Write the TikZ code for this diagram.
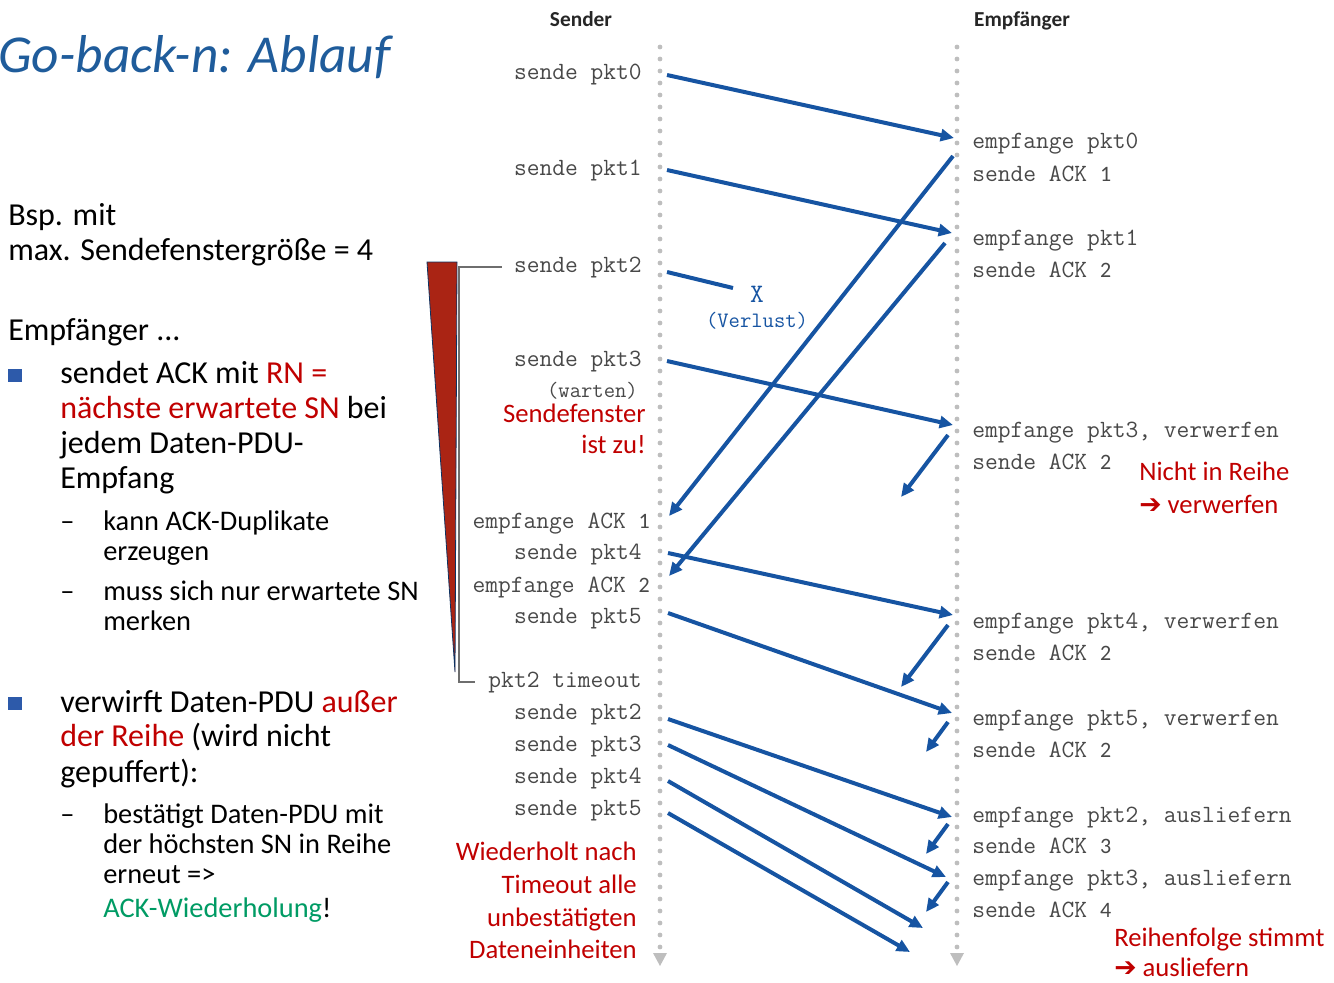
\documentclass[tikz,border=0pt]{standalone}
\usepackage{fontspec}
\setmainfont{Carlito}
\newfontfamily\symfont{DejaVu Sans}
\usetikzlibrary{arrows.meta}
\definecolor{titleblue}{RGB}{31,92,155}
\definecolor{arrblue}{RGB}{22,84,162}
\definecolor{darkred}{RGB}{192,0,0}
\definecolor{ackgreen}{RGB}{0,155,100}
\definecolor{monogray}{RGB}{72,72,72}
\definecolor{dotgray}{RGB}{190,190,190}
\definecolor{bulletblue}{RGB}{45,90,170}
\definecolor{wedgered}{RGB}{170,36,20}
\definecolor{brackgray}{RGB}{110,110,110}
\newcommand\ackn[1]{{\rmfamily\fontsize{16.5}{16.5}\selectfont #1}}
\begin{document}
\begin{tikzpicture}[x=0.75pt,y=-0.75pt,
  body/.style={anchor=base west, inner sep=0, font=\fontsize{24}{27}\selectfont},
  subt/.style={anchor=base west, inner sep=0, font=\fontsize{21.3}{23}\selectfont},
  bulletsq/.style={fill=bulletblue, minimum size=10pt, inner sep=0},
  mono/.style={inner sep=0, font=\ttfamily\fontsize{18.6}{18.6}\selectfont, text=monogray},
  sl/.style={mono, anchor=base east},
  rl/.style={mono, anchor=base west},
  note/.style={inner sep=0, font=\fontsize{20}{22}\selectfont, text=darkred},
  head/.style={inner sep=0, anchor=base, font=\bfseries\fontsize{16}{16}\selectfont, text=black!85},
  msg/.style={line width=3pt, draw=arrblue, -{Triangle[length=10pt,width=9pt]}},
  timeline/.style={dotgray, line width=3.6pt, line cap=round, dash pattern=on 0pt off 9pt}]
\useasboundingbox (0,0) rectangle (1334,982);

% ---------- left column ----------
\node[anchor=base west, inner sep=0, font=\itshape\fontsize{40}{40}\selectfont, text=titleblue] (title) at (-2,72) {Go-back-n: Ablauf};
\node[body] (bsp) at (8,225) {Bsp. mit};
\node[body] (max) at (8,260) {max. Sendefenstergröße = 4};
\node[body] (emp) at (8,340) {Empfänger ...};

\node[bulletsq] (b1) at (15,375.5) {};
\node[body] (t11) at (60,383) {sendet ACK mit \textcolor{darkred}{RN =}};
\node[body] (t12) at (60,418) {\textcolor{darkred}{nächste erwartete SN} bei};
\node[body] (t13) at (60,453) {jedem Daten-PDU-};
\node[body] (t14) at (60,488) {Empfang};
\node[subt] (d11) at (60,530) {–};
\node[subt] (s11) at (103,530) {kann ACK-Duplikate};
\node[subt] (s12) at (103,560) {erzeugen};
\node[subt] (d12) at (60,600) {–};
\node[subt] (s13) at (103,600) {muss sich nur erwartete SN};
\node[subt] (s14) at (103,630) {merken};

\node[bulletsq] (b2) at (15,703.5) {};
\node[body] (t21) at (60,712) {verwirft Daten-PDU \textcolor{darkred}{außer}};
\node[body] (t22) at (60,746) {\textcolor{darkred}{der Reihe} (wird nicht};
\node[body] (t23) at (60,782) {gepuffert):};
\node[subt] (d21) at (60,823) {–};
\node[subt] (s21) at (103,823) {bestätigt Daten-PDU mit};
\node[subt] (s22) at (103,853) {der höchsten SN in Reihe};
\node[subt] (s23) at (103,883) {erneut =>};
\node[subt] (s24) at (103,917) {\textcolor{ackgreen}{ACK-Wiederholung}!};

% ---------- headers and timelines ----------
\node[head] (hs) at (581,26) {Sender};
\node[head] (he) at (1022,26) {Empfänger};

\coordinate (st) at (660,47);
\coordinate (sb) at (660,950);
\coordinate (et) at (957,47);
\coordinate (eb) at (957,950);
\draw[timeline] (st) -- (sb);
\draw[timeline] (et) -- (eb);
\fill[dotgray] (653,953) -- (667,953) -- (660,966) -- cycle;
\fill[dotgray] (950,953) -- (964,953) -- (957,966) -- cycle;

% ---------- sender labels ----------
\node[sl] (sp0) at (642,79) {sende pkt0};
\node[sl] (sp1) at (642,175) {sende pkt1};
\node[sl] (sp2) at (642,272) {sende pkt2};
\node[sl] (sp3) at (642,366) {sende pkt3};
\node[sl, font=\ttfamily\fontsize{16.5}{16.5}\selectfont] (wart) at (638,397) {(warten)};
\node[note, anchor=base east] (sf1) at (646,422) {Sendefenster};
\node[note, anchor=base east] (sf2) at (646,453) {ist zu!};
\node[sl] (ea1) at (650,528) {empfange ACK \ackn{1}};
\node[sl] (sp4) at (642,559) {sende pkt4};
\node[sl] (ea2) at (650,592) {empfange ACK \ackn{2}};
\node[sl] (sp5) at (642,623) {sende pkt5};
\node[sl] (pto) at (642,687) {pkt2 timeout};
\node[sl] (rp2) at (642,719) {sende pkt2};
\node[sl] (rp3) at (642,751) {sende pkt3};
\node[sl] (rp4) at (642,783) {sende pkt4};
\node[sl] (rp5) at (642,815) {sende pkt5};
\node[note, anchor=base east] (w1) at (637,860) {Wiederholt nach};
\node[note, anchor=base east] (w2) at (637,893) {Timeout alle};
\node[note, anchor=base east] (w3) at (637,926) {unbestätigten};
\node[note, anchor=base east] (w4) at (637,958) {Dateneinheiten};

% ---------- receiver labels ----------
\node[rl] (r0a) at (972,148) {empfange pkt0};
\node[rl] (r0b) at (972,181) {sende ACK \ackn{1}};
\node[rl] (r1a) at (972,245) {empfange pkt1};
\node[rl] (r1b) at (972,277) {sende ACK \ackn{2}};
\node[rl] (r3a) at (972,437) {empfange pkt3, verwerfen};
\node[rl] (r3b) at (972,469) {sende ACK \ackn{2}};
\node[rl] (r4a) at (972,628) {empfange pkt4, verwerfen};
\node[rl] (r4b) at (972,660) {sende ACK \ackn{2}};
\node[rl] (r5a) at (972,725) {empfange pkt5, verwerfen};
\node[rl] (r5b) at (972,757) {sende ACK \ackn{2}};
\node[rl] (r2a) at (972,822) {empfange pkt2, ausliefern};
\node[rl] (r2b) at (972,853) {sende ACK \ackn{3}};
\node[rl] (r3c) at (972,885) {empfange pkt3, ausliefern};
\node[rl] (r3d) at (972,917) {sende ACK \ackn{4}};
\node[note, anchor=base west] (n1) at (1139,480) {Nicht in Reihe};
\node[note, anchor=base west] (n2) at (1139,513) {{\symfont\bfseries ➔} verwerfen};
\node[note, anchor=base west] (n3) at (1114,946) {Reihenfolge stimmt};
\node[note, anchor=base west] (n4) at (1114,976) {{\symfont\bfseries ➔} ausliefern};

% ---------- sending window wedge and bracket ----------
\filldraw[fill=wedgered, draw=arrblue!60!black, line width=0.6pt] (427,262) -- (457,262) -- (455,672) -- cycle;
\draw[brackgray, line width=1.3pt] ([xshift=-9pt]sp2.west) -- ++(-43,0) |- ([xshift=-10pt]pto.west);

% ---------- messages ----------
\coordinate (a0s) at (667,75);  \coordinate (a0e) at (954,138);
\coordinate (a1s) at (667,170); \coordinate (a1e) at (952,233);
\coordinate (a2s) at (667,272); \coordinate (a2e) at (733,288);
\coordinate (a3s) at (667,361); \coordinate (a3e) at (953,425);
\coordinate (k1s) at (953,156); \coordinate (k1e) at (669,516);
\coordinate (k2s) at (945,243); \coordinate (k2e) at (669,576);
\coordinate (k3s) at (948,435); \coordinate (k3e) at (901,497);
\coordinate (a4s) at (668,553); \coordinate (a4e) at (953,615);
\coordinate (k4s) at (948,625); \coordinate (k4e) at (901,687);
\coordinate (a5s) at (668,613); \coordinate (a5e) at (952,713);
\coordinate (k5s) at (948,722); \coordinate (k5e) at (926,752);
\coordinate (b2s) at (668,719); \coordinate (b2e) at (952,817);
\coordinate (k6s) at (948,824); \coordinate (k6e) at (926,854);
\coordinate (b3s) at (668,745); \coordinate (b3e) at (946,877);
\coordinate (k7s) at (948,882); \coordinate (k7e) at (926,912);
\coordinate (b4s) at (668,781); \coordinate (b4e) at (923,928);
\coordinate (b5s) at (668,813); \coordinate (b5e) at (910,952);

\draw[msg] (a0s) -- (a0e);
\draw[msg] (a1s) -- (a1e);
\draw[line width=3pt, draw=arrblue] (a2s) -- (a2e);
\node[mono, anchor=base, text=arrblue, font=\ttfamily\fontsize{20}{20}\selectfont] (lx) at (757,302) {X};
\node[mono, anchor=base, text=arrblue, font=\ttfamily\fontsize{16.5}{16.5}\selectfont] (lv) at (757,327) {(Verlust)};
\draw[msg] (a3s) -- (a3e);
\draw[msg] (k1s) -- (k1e);
\draw[msg] (k2s) -- (k2e);
\draw[msg] (k3s) -- (k3e);
\draw[msg] (a4s) -- (a4e);
\draw[msg] (k4s) -- (k4e);
\draw[msg] (a5s) -- (a5e);
\draw[msg] (k5s) -- (k5e);
\draw[msg] (b2s) -- (b2e);
\draw[msg] (k6s) -- (k6e);
\draw[msg] (b3s) -- (b3e);
\draw[msg] (k7s) -- (k7e);
\draw[msg] (b4s) -- (b4e);
\draw[msg] (b5s) -- (b5e);
\end{tikzpicture}
\end{document}
